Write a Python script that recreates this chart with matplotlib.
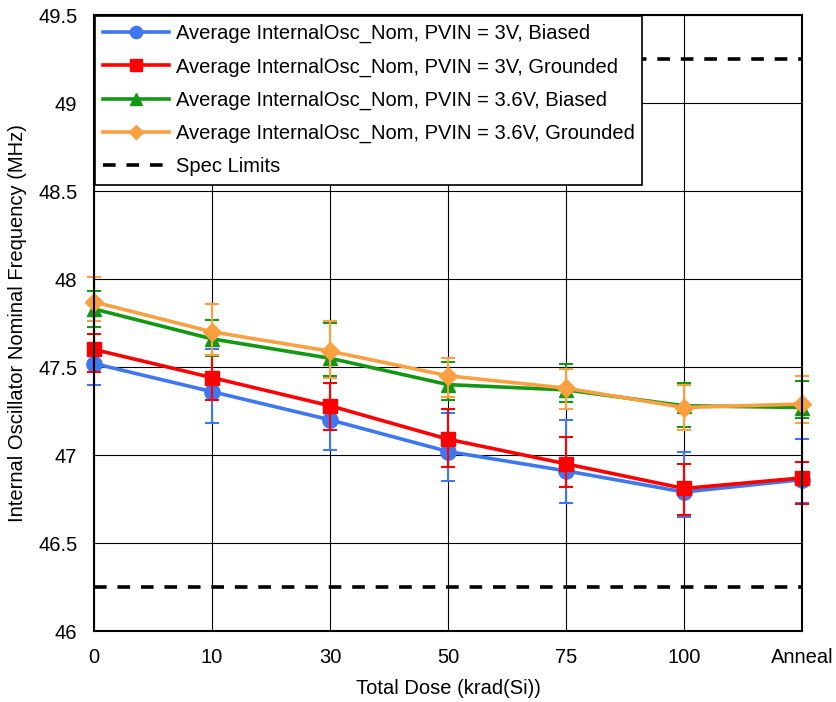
import matplotlib.pyplot as plt
from matplotlib.ticker import FuncFormatter

plt.rcParams['font.family'] = ['Liberation Sans', 'DejaVu Sans']

doses = ['0', '10', '30', '50', '75', '100', 'Anneal']

# mean, min and max frequency (MHz) for each test condition
bias_3v = [47.52, 47.36, 47.20, 47.02, 46.91, 46.79, 46.86]
bias_3v_lo = [47.40, 47.18, 47.03, 46.85, 46.73, 46.65, 46.73]
bias_3v_hi = [47.79, 47.60, 47.41, 47.24, 47.20, 47.02, 47.09]

gnd_3v = [47.60, 47.44, 47.28, 47.09, 46.95, 46.81, 46.87]
gnd_3v_lo = [47.47, 47.31, 47.14, 46.93, 46.82, 46.66, 46.72]
gnd_3v_hi = [47.69, 47.57, 47.41, 47.26, 47.10, 46.95, 46.96]

bias_36v = [47.83, 47.66, 47.55, 47.40, 47.37, 47.28, 47.27]
bias_36v_lo = [47.73, 47.56, 47.45, 47.31, 47.30, 47.16, 47.21]
bias_36v_hi = [47.93, 47.77, 47.75, 47.53, 47.52, 47.41, 47.42]

gnd_36v = [47.87, 47.70, 47.59, 47.45, 47.38, 47.27, 47.29]
gnd_36v_lo = [47.76, 47.57, 47.44, 47.33, 47.26, 47.14, 47.18]
gnd_36v_hi = [48.01, 47.86, 47.76, 47.55, 47.49, 47.40, 47.45]

spec_low = 46.25
spec_high = 49.25

series = [
    ('Average InternalOsc_Nom, PVIN = 3V, Biased', bias_3v, bias_3v_lo, bias_3v_hi, '#3D78F2', 'o', 11),
    ('Average InternalOsc_Nom, PVIN = 3V, Grounded', gnd_3v, gnd_3v_lo, gnd_3v_hi, '#FF0000', 's', 10),
    ('Average InternalOsc_Nom, PVIN = 3.6V, Biased', bias_36v, bias_36v_lo, bias_36v_hi, '#139813', '^', 10),
    ('Average InternalOsc_Nom, PVIN = 3.6V, Grounded', gnd_36v, gnd_36v_lo, gnd_36v_hi, '#FAA040', 'D', 9),
]

fig = plt.figure(figsize=(8.36, 7.02), dpi=100)
ax = fig.add_axes([0.1124, 0.1011, 0.8469, 0.8775])

x = list(range(len(doses)))
handles = []
for i, (label, y, lo, hi, color, marker, ms) in enumerate(series):
    yerr = [[m - l for m, l in zip(y, lo)], [h - m for m, h in zip(y, hi)]]
    eb = ax.errorbar(x, y, yerr=yerr, fmt='none', ecolor=color, elinewidth=1.5,
                     capsize=5, capthick=1.5, zorder=3 + i)
    # keep the caps at the first and last dose visible past the frame
    for part in list(eb.lines[1]) + list(eb.lines[2]):
        part.set_clip_on(False)
    line, = ax.plot(x, y, color=color, linewidth=2.6, marker=marker,
                    markersize=ms, label=label, zorder=3 + i, clip_on=False)
    handles.append(line)

spec, = ax.plot([0, len(doses) - 1], [spec_low, spec_low], color='black',
                linewidth=2.6, linestyle=(0, (3.5, 3)), label='Spec Limits', zorder=2)
ax.plot([0, len(doses) - 1], [spec_high, spec_high], color='black',
        linewidth=2.6, linestyle=(0, (3.5, 3)), zorder=2)
handles.append(spec)

ax.set_xlim(0, len(doses) - 1)
ax.set_ylim(46, 49.5)
ax.set_xticks(x)
ax.set_xticklabels(doses)
ax.set_yticks([46 + 0.5 * k for k in range(8)])
ax.yaxis.set_major_formatter(FuncFormatter(lambda v, p: '%g' % v))
ax.tick_params(length=0, labelsize=14.5, pad=12)
ax.grid(True, color='black', linewidth=0.8, zorder=0)
ax.set_axisbelow(True)
for s in ax.spines.values():
    s.set_linewidth(1.5)
    s.set_zorder(8)

ax.set_xlabel('Total Dose (krad(Si))', fontsize=14.5, labelpad=9)
ax.set_ylabel('Internal Oscillator Nominal Frequency (MHz)', fontsize=14.5, labelpad=8)

leg = ax.legend(handles=handles, loc='upper left', fontsize=14.5,
                handlelength=3.3, labelspacing=0.7, borderaxespad=0.05,
                fancybox=False, framealpha=1, edgecolor='black',
                handletextpad=0.3, borderpad=0.4, markerscale=0.8)
leg.get_frame().set_linewidth(1.2)
leg.set_zorder(10)

fig.savefig('out.png', dpi=100)
